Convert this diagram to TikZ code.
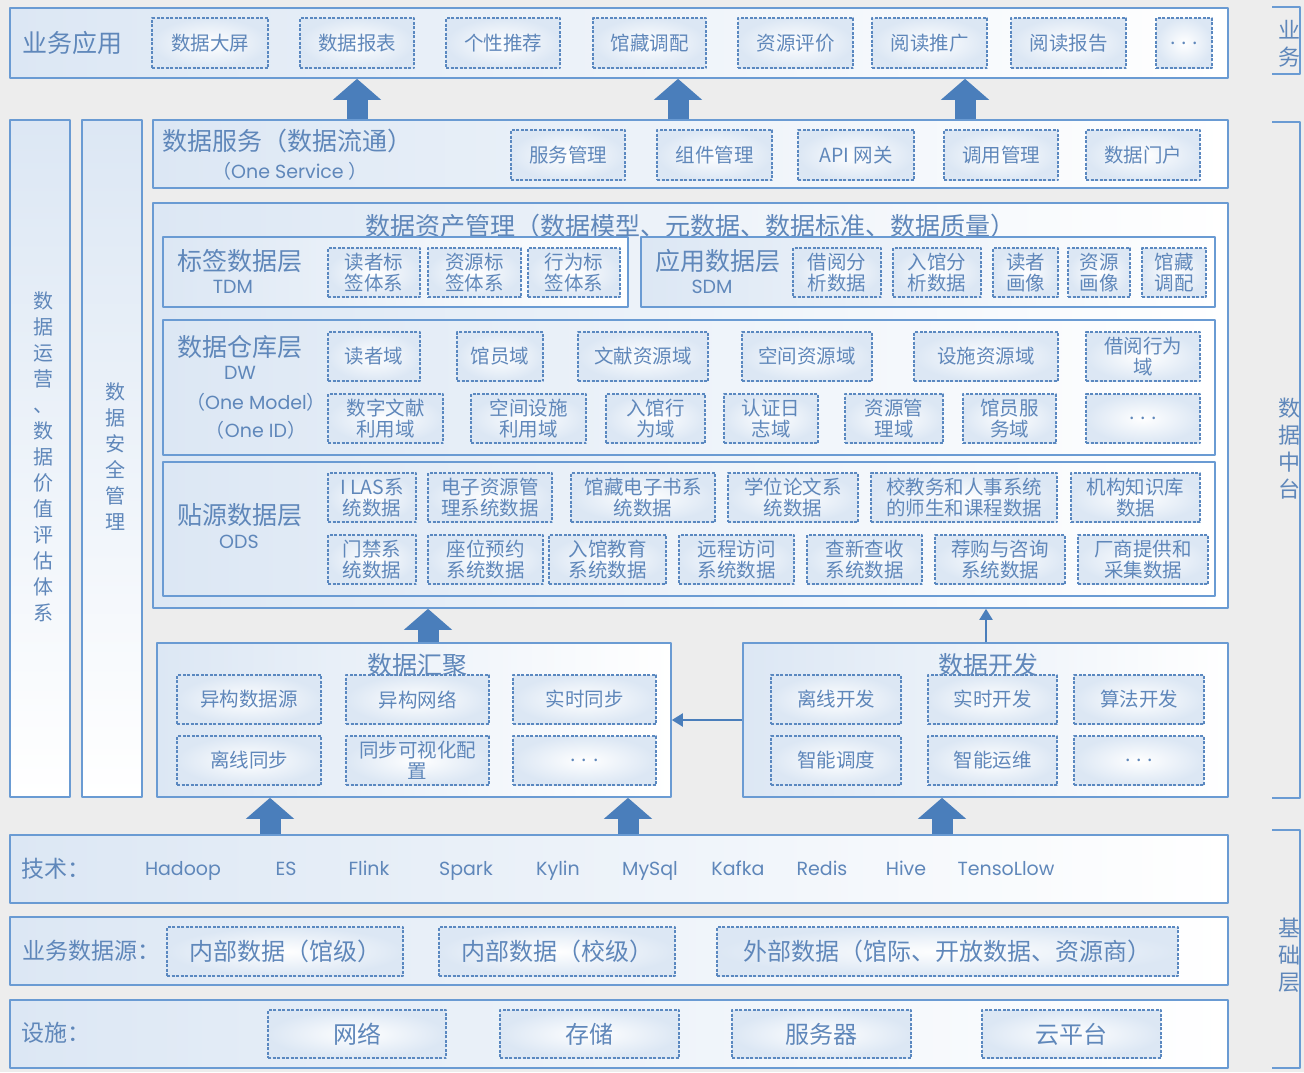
\documentclass[tikz,border=0pt]{standalone}
\usepackage{fontspec}
\setmainfont{Noto Sans CJK SC}
\newfontfamily\latfont{Poppins}
\usetikzlibrary{arrows.meta}

\definecolor{bgc}{HTML}{EDEDED}
\definecolor{framec}{HTML}{6A9BD3}
\definecolor{dashc}{HTML}{5A88C0}
\definecolor{txtc}{HTML}{5F87BA}
\definecolor{arrc}{HTML}{4A7EBB}
\definecolor{tintc}{HTML}{DCE7F4}

% box from its corners: style, name, x1, y1, x2, y2, text
\newcommand\boxnode[7]{\node[#1,minimum width={(#5)-(#3)},minimum height={(#6)-(#4)}] (#2) at ({((#3)+(#5))/2},{((#4)+(#6))/2}) {#7};}

\tikzset{
  panel/.style={draw=framec, line width=1.6pt, left color=tintc, right color=white, inner sep=0pt},
  panelv/.style={panel, top color=tintc, bottom color=white},
  dbox/.style={draw=dashc, dash pattern=on 3pt off 1.5pt, line width=1.1pt, inner color=white, outer color=tintc,
    inner sep=0pt, align=center, text=txtc, font=\fontsize{19.5}{21}\selectfont},
  bbox/.style={dbox, font=\fontsize{24}{26}\selectfont},
  lbl/.style={text=txtc, align=center, inner sep=0pt, font=\fontsize{25}{27}\selectfont},
  rowlbl/.style={lbl, font=\fontsize{23}{27}\selectfont},
  lat/.style={lbl, font=\latfont\fontsize{19}{22}\selectfont, text height=14pt, text depth=4pt},
  bigarr/.style={arrc, line width=21pt, -{Triangle[width=47pt,length=21pt]}},
  thinarr/.style={arrc, line width=2pt, -{Triangle[width=13pt,length=11pt]}},
  brk/.style={draw=framec, line width=1.6pt},
}

\begin{document}
\begin{tikzpicture}[x=1pt, y=-1pt, line join=round]
\useasboundingbox (0,0) rectangle (1304,1072);
\fill[bgc] (0,0) rectangle (1304,1072);

% business applications
\boxnode{panel}{apps}{10}{8}{1228}{78}{}
\node[lbl] (appsl) at (73,43) {业务应用};
\boxnode{dbox}{a1}{152}{18}{268}{68}{数据大屏}
\boxnode{dbox}{a2}{300}{18}{414}{68}{数据报表}
\boxnode{dbox}{a3}{446}{18}{560}{68}{个性推荐}
\boxnode{dbox}{a4}{593}{18}{706}{68}{馆藏调配}
\boxnode{dbox}{a5}{738}{18}{853}{68}{资源评价}
\boxnode{dbox}{a6}{872}{18}{987}{68}{阅读推广}
\boxnode{dbox}{a7}{1011}{18}{1126}{68}{阅读报告}
\boxnode{dbox}{a8}{1156}{18}{1212}{68}{. . .}

% side columns
\boxnode{panelv}{ops}{10}{120}{70}{797}{}
\node[lbl, font=\fontsize{20}{26}\selectfont] (opsl) at (44,457) {数\\据\\运\\营\\、\\数\\据\\价\\值\\评\\估\\体\\系};
\boxnode{panelv}{sec}{82}{120}{142}{797}{}
\node[lbl, font=\fontsize{20}{26}\selectfont] (secl) at (115,457) {数\\据\\安\\全\\管\\理};

% data service
\boxnode{panel}{svc}{153}{120}{1228}{188}{}
\node[lbl] (svcl) at (287,141) {数据服务（数据流通）};
\node[lbl, font=\fontsize{19}{22}\selectfont] (svcl2) at (290,171) {（{\latfont One Service }）};
\boxnode{dbox}{s1}{511}{130}{625}{180}{服务管理}
\boxnode{dbox}{s2}{657}{130}{772}{180}{组件管理}
\boxnode{dbox}{s3}{798}{130}{914}{180}{API 网关}
\boxnode{dbox}{s4}{944}{130}{1058}{180}{调用管理}
\boxnode{dbox}{s5}{1086}{130}{1200}{180}{数据门户}

\path (357,0) coordinate (u1) (678,0) coordinate (u2) (965,0) coordinate (u3);
\draw[bigarr] (svc.north -| u1) -- (apps.south -| u1);
\draw[bigarr] (svc.north -| u2) -- (apps.south -| u2);
\draw[bigarr] (svc.north -| u3) -- (apps.south -| u3);

% data assets
\boxnode{panel}{asset}{153}{203}{1228}{608}{}
\node[lbl] (assetl) at (690,226) {数据资产管理（数据模型、元数据、数据标准、数据质量）};

\boxnode{panel}{tdm}{163}{237}{628}{307}{}
\node[lbl] (tdml) at (240,261) {标签数据层};
\node[lat] (tdml2) at (233,288) {TDM};
\boxnode{dbox}{t1}{328}{248}{420}{297}{读者标\\签体系}
\boxnode{dbox}{t2}{428}{248}{521}{297}{资源标\\签体系}
\boxnode{dbox}{t3}{528}{248}{620}{297}{行为标\\签体系}

\boxnode{panel}{sdm}{641}{237}{1215}{307}{}
\node[lbl] (sdml) at (718,261) {应用数据层};
\node[lat] (sdml2) at (712,288) {SDM};
\boxnode{dbox}{m1}{793}{248}{881}{297}{借阅分\\析数据}
\boxnode{dbox}{m2}{893}{248}{981}{297}{入馆分\\析数据}
\boxnode{dbox}{m3}{993}{248}{1058}{297}{读者\\画像}
\boxnode{dbox}{m4}{1068}{248}{1130}{297}{资源\\画像}
\boxnode{dbox}{m5}{1142}{248}{1206}{297}{馆藏\\调配}

\boxnode{panel}{dw}{163}{320}{1215}{455}{}
\node[lbl] (dwl) at (240,347) {数据仓库层};
\node[lat] (dwl2) at (240,374) {DW};
\node[lbl, font=\fontsize{19}{22}\selectfont] (dwl3) at (256,402) {（{\latfont One Model}）};
\node[lbl, font=\fontsize{19}{22}\selectfont] (dwl4) at (256,430) {（{\latfont One ID}）};
\boxnode{dbox}{w1}{328}{332}{420}{381}{读者域}
\boxnode{dbox}{w2}{457}{332}{543}{381}{馆员域}
\boxnode{dbox}{w3}{578}{332}{708}{381}{文献资源域}
\boxnode{dbox}{w4}{742}{332}{872}{381}{空间资源域}
\boxnode{dbox}{w5}{914}{332}{1058}{381}{设施资源域}
\boxnode{dbox}{w6}{1086}{332}{1200}{381}{借阅行为\\域}
\boxnode{dbox}{w7}{328}{394}{443}{443}{数字文献\\利用域}
\boxnode{dbox}{w8}{471}{394}{586}{443}{空间设施\\利用域}
\boxnode{dbox}{w9}{606}{394}{705}{443}{入馆行\\为域}
\boxnode{dbox}{w10}{724}{394}{818}{443}{认证日\\志域}
\boxnode{dbox}{w11}{845}{394}{943}{443}{资源管\\理域}
\boxnode{dbox}{w12}{963}{394}{1056}{443}{馆员服\\务域}
\boxnode{dbox}{w13}{1086}{394}{1200}{443}{. . .}

\boxnode{panel}{ods}{163}{462}{1215}{596}{}
\node[lbl] (odsl) at (240,515) {贴源数据层};
\node[lat] (odsl2) at (239,543) {ODS};
\boxnode{dbox}{o1}{328}{473}{416}{522}{I LAS系\\统数据}
\boxnode{dbox}{o2}{428}{473}{552}{522}{电子资源管\\理系统数据}
\boxnode{dbox}{o3}{571}{473}{715}{522}{馆藏电子书系\\统数据}
\boxnode{dbox}{o4}{728}{473}{858}{522}{学位论文系\\统数据}
\boxnode{dbox}{o5}{871}{473}{1057}{522}{校教务和人事系统\\的师生和课程数据}
\boxnode{dbox}{o6}{1071}{473}{1200}{522}{机构知识库\\数据}
\boxnode{dbox}{o7}{328}{535}{416}{584}{门禁系\\统数据}
\boxnode{dbox}{o8}{428}{535}{543}{584}{座位预约\\系统数据}
\boxnode{dbox}{o9}{549}{535}{666}{584}{入馆教育\\系统数据}
\boxnode{dbox}{o10}{679}{535}{794}{584}{远程访问\\系统数据}
\boxnode{dbox}{o11}{807}{535}{922}{584}{查新查收\\系统数据}
\boxnode{dbox}{o12}{935}{535}{1065}{584}{荐购与咨询\\系统数据}
\boxnode{dbox}{o13}{1078}{535}{1208}{584}{厂商提供和\\采集数据}

% data gathering
\boxnode{panel}{gather}{157}{643}{671}{797}{}
\boxnode{dbox}{g1}{177}{675}{321}{724}{异构数据源}
\boxnode{dbox}{g2}{346}{675}{489}{724}{异构网络}
\boxnode{dbox}{g3}{513}{675}{656}{724}{实时同步}
\boxnode{dbox}{g4}{177}{736}{321}{785}{离线同步}
\boxnode{dbox}{g5}{346}{736}{489}{785}{同步可视化配\\置}
\boxnode{dbox}{g6}{513}{736}{656}{785}{. . .}
\node[lbl] (gatherl) at (417,665) {数据汇聚};

% data development
\boxnode{panel}{dev}{743}{643}{1228}{797}{}
\boxnode{dbox}{d1}{771}{675}{901}{724}{离线开发}
\boxnode{dbox}{d2}{928}{675}{1057}{724}{实时开发}
\boxnode{dbox}{d3}{1074}{675}{1204}{724}{算法开发}
\boxnode{dbox}{d4}{771}{736}{901}{785}{智能调度}
\boxnode{dbox}{d5}{928}{736}{1057}{785}{智能运维}
\boxnode{dbox}{d6}{1074}{736}{1204}{785}{. . .}
\node[lbl] (devl) at (988,665) {数据开发};

\path (428,0) coordinate (u4) (986,0) coordinate (u5) (0,720) coordinate (h1);
\draw[bigarr] (gather.north -| u4) -- (asset.south -| u4);
\draw[thinarr] (dev.north -| u5) -- (asset.south -| u5);
\draw[thinarr] (dev.west |- h1) -- (gather.east |- h1);

% technology
\boxnode{panel}{tech}{10}{835}{1228}{903}{}
\node[rowlbl] (techl) at (56,869) {技术：};
\node[lat] (k1) at (183,870) {Hadoop};
\node[lat] (k2) at (286,870) {ES};
\node[lat] (k3) at (369,870) {Flink};
\node[lat] (k4) at (466,870) {Spark};
\node[lat] (k5) at (558,870) {Kylin};
\node[lat] (k6) at (650,870) {MySql};
\node[lat] (k7) at (738,870) {Kafka};
\node[lat] (k8) at (822,870) {Redis};
\node[lat] (k9) at (906,870) {Hive};
\node[lat] (k10) at (1006,870) {TensoLlow};

\path (270,0) coordinate (u6) (628,0) coordinate (u7) (942,0) coordinate (u8);
\draw[bigarr] (tech.north -| u6) -- (gather.south -| u6);
\draw[bigarr] (tech.north -| u7) -- (gather.south -| u7);
\draw[bigarr] (tech.north -| u8) -- (dev.south -| u8);

% business data sources
\boxnode{panel}{src}{10}{917}{1228}{985}{}
\node[rowlbl] (srcl) at (91,951) {业务数据源：};
\boxnode{bbox}{b1}{167}{927}{403}{976}{内部数据（馆级）}
\boxnode{bbox}{b2}{439}{927}{675}{976}{内部数据（校级）}
\boxnode{bbox}{b3}{717}{927}{1178}{976}{外部数据（馆际、开放数据、资源商）}

% infrastructure
\boxnode{panel}{infra}{10}{1000}{1228}{1068}{}
\node[rowlbl] (infral) at (56,1033) {设施：};
\boxnode{bbox}{f1}{268}{1010}{446}{1058}{网络}
\boxnode{bbox}{f2}{500}{1010}{679}{1058}{存储}
\boxnode{bbox}{f3}{732}{1010}{911}{1058}{服务器}
\boxnode{bbox}{f4}{982}{1010}{1161}{1058}{云平台}

% right brackets
\draw[brk] (1272,7) -- (1300,7) -- (1300,74) -- (1272,74);
\node[lbl, font=\fontsize{22}{27}\selectfont] (r1) at (1289,44) {业\\务};
\draw[brk] (1272,122) -- (1300,122) -- (1300,798) -- (1272,798);
\node[lbl, font=\fontsize{22}{27}\selectfont] (r2) at (1289,449) {数\\据\\中\\台};
\draw[brk] (1272,830) -- (1300,830) -- (1300,1068) -- (1272,1068);
\node[lbl, font=\fontsize{22}{27}\selectfont] (r3) at (1289,955) {基\\础\\层};
\end{tikzpicture}
\end{document}
